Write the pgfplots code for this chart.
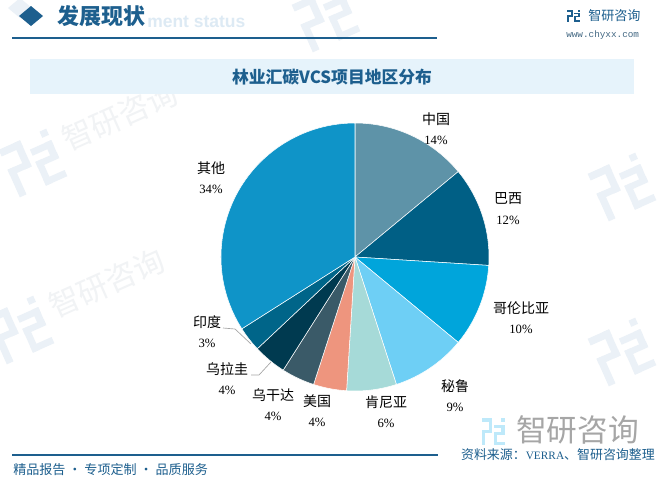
\documentclass[border=0pt]{standalone}
\usepackage{pgfplots}
\pgfplotsset{compat=1.18}
\usepackage{pgfplotstable}
\usepackage{fontspec}
\setmainfont{Liberation Serif}
\newfontfamily\cjk{Noto Sans CJK SC}
\newfontfamily\latsans{Liberation Sans}
\newfontfamily\latmono{Liberation Mono}

\definecolor{hdr}{HTML}{1D5F8E}
\definecolor{titlebg}{HTML}{E6F3FB}
\definecolor{subtle}{HTML}{DDEAF4}
\definecolor{wmicon}{HTML}{EBF1F7}
\definecolor{wmtext}{HTML}{F1F3F5}
\definecolor{cA}{HTML}{5E93A8}
\definecolor{cB}{HTML}{005F85}
\definecolor{cC}{HTML}{00A5DB}
\definecolor{cD}{HTML}{6ECFF5}
\definecolor{cE}{HTML}{A6DAD8}
\definecolor{cF}{HTML}{EE957E}
\definecolor{cG}{HTML}{3A5A68}
\definecolor{cH}{HTML}{003A50}
\definecolor{cI}{HTML}{006589}
\definecolor{cJ}{HTML}{0F94C8}

% pie data: share in percent, clockwise from the top; lx ly = label position (px)
\pgfplotstableread{
name pct col lx ly
中国 14 cA 436 119
巴西 12 cB 508 199
哥伦比亚 10 cC 521 308
秘鲁 9 cD 455 386
肯尼亚 6 cE 386 402
美国 4 cF 317 401
乌干达 4 cG 273 395
乌拉圭 4 cH 227 369
印度 3 cI 207 322
其他 34 cJ 211 168
}\piedata

\newcommand\px[1]{\fontsize{#1pt}{#1pt}\selectfont}

% simplified company icon, unit square, y up
\newcommand\logoicon[1]{%
  \fill[#1] (0,1) rectangle (0.45,0.86);
  \fill[#1] (0.31,1) rectangle (0.45,0.45);
  \fill[#1] (0,0.58) rectangle (0.45,0.45);
  \fill[#1] (0,0.58) rectangle (0.14,0);
  \fill[#1] (0.55,0.76) rectangle (1,0.63);
  \fill[#1] (0.86,0.76) rectangle (1,0.4);
  \fill[#1] (0.55,0.5) rectangle (1,0.38);
  \fill[#1] (0.55,0.5) rectangle (0.68,0);
  \fill[#1] (0.55,0.13) rectangle (1,0);
  \fill[#1] (0.86,1) rectangle (1,0.87);
}

% faint watermark icon
\newcommand\wmicon[2]{%
  \begin{scope}[shift={(axis cs:#1,#2)}, rotate=24, x=0.75pt, y=0.75pt]
    \begin{scope}[shift={(-26,-26)}, x=39pt, y=39pt]
      \logoicon{wmicon}
    \end{scope}
  \end{scope}
}
% faint watermark icon with its name
\newcommand\wmtile[2]{%
  \wmicon{#1}{#2}
  \begin{scope}[shift={(axis cs:#1,#2)}, rotate=24, x=0.75pt, y=0.75pt, transform shape]
    \node[anchor=base west, text=wmtext, font=\cjk\px{23}] at (32,-4) {智研咨询};
  \end{scope}
}

\begin{document}
\begin{tikzpicture}
\useasboundingbox (0,0) rectangle (498.75pt,361.5pt);
\fill[white] (0,0) rectangle (498.75pt,361.5pt);
\begin{axis}[
  at={(0,0)}, anchor=south west,
  scale only axis, width=498.75pt, height=361.5pt,
  xmin=0, xmax=665, ymin=0, ymax=482, y dir=reverse,
  hide axis, clip=false,
]
% faint watermarks
\wmtile{33}{163}
\wmtile{20}{330}
\wmicon{326}{18}
\wmicon{622}{187}
\wmicon{622}{352}

% header
\fill[wmicon] (axis cs:8,8) -- (axis cs:20,-2) -- (axis cs:32,8) -- (axis cs:20,18) -- cycle;
\fill[hdr] (axis cs:19,16) -- (axis cs:31,6) -- (axis cs:43,16) -- (axis cs:31,26) -- cycle;
\node[anchor=base west, inner sep=0pt, text=subtle, font=\latsans\bfseries\px{13.1}] at (axis cs:147,27) {ment status};
\node[anchor=west, inner sep=0pt, text=hdr, font=\cjk\bfseries\px{16.5}] at (axis cs:57,16) {发展现状};
\draw[hdr, line width=1.1pt] (axis cs:12,38) -- (axis cs:437,38);
\begin{scope}[shift={(axis cs:567,22)}, x=9.5pt, y=9pt]
  \logoicon{hdr}
\end{scope}
\node[anchor=west, inner sep=0pt, text=hdr, font=\cjk\px{9.8}] at (axis cs:588,16) {智研咨询};
\node[anchor=west, inner sep=0pt, text=hdr!70!black!80, font=\latmono\px{7}] at (axis cs:566,35) {www.chyxx.com};

% chart title
\fill[titlebg] (axis cs:30,59) rectangle (axis cs:634,94);
\node[text=hdr, font=\cjk\bfseries\px{12.6}] at (axis cs:332,77) {林业汇碳VCS项目地区分布};

% pie wedges and labels from the table
\def\angA{90}
\pgfplotsforeachungrouped \i in {0,...,9}{%
  \pgfplotstablegetelem{\i}{pct}\of\piedata \let\pv\pgfplotsretval
  \pgfplotstablegetelem{\i}{col}\of\piedata \let\pc\pgfplotsretval
  \pgfmathsetmacro\angB{\angA-3.6*\pv}%
  \edef\tmp{\noexpand\fill[\pc, draw=white, line width=0.4pt] (axis cs:355,257) -- ++(\angA:100.5pt) arc[start angle=\angA, end angle=\angB, radius=100.5pt] -- cycle;}%
  \tmp
  \let\angA\angB
}
\pgfplotsforeachungrouped \i in {0,...,9}{%
  \pgfplotstablegetelem{\i}{pct}\of\piedata \let\pv\pgfplotsretval
  \pgfplotstablegetelem{\i}{name}\of\piedata \let\pn\pgfplotsretval
  \pgfplotstablegetelem{\i}{lx}\of\piedata \let\lx\pgfplotsretval
  \pgfplotstablegetelem{\i}{ly}\of\piedata \let\ly\pgfplotsretval
  \pgfmathsetmacro\lyb{\ly+21}%
  \edef\tmp{\noexpand\node[font=\noexpand\cjk\noexpand\px{10.5}] at (axis cs:\lx,\ly) {\pn};
    \noexpand\node[font=\noexpand\px{9.5}] at (axis cs:\lx,\lyb) {\pv\noexpand\%};}%
  \tmp
}
\draw[gray!70, line width=0.5pt] (axis cs:223,328) -- (axis cs:235,329) -- (axis cs:251,344);
\draw[gray!70, line width=0.5pt] (axis cs:251,375) -- (axis cs:259,375) -- (axis cs:271,362);

% footer
\begin{scope}[shift={(axis cs:482,445)}, x=17pt, y=20pt]
  \logoicon{cD!45}
\end{scope}
\node[anchor=west, inner sep=0pt, text=black!35, font=\cjk\px{23}] at (axis cs:516,430) {智研咨询};
\draw[hdr, line width=1pt] (axis cs:12,455) -- (axis cs:438,455);
\node[anchor=west, inner sep=0pt, text=hdr, font=\cjk\px{9.8}] at (axis cs:13,470) {精品报告 · 专项定制 · 品质服务};
\node[anchor=east, inner sep=0pt, text=hdr, font=\cjk\px{9.7}] at (axis cs:655,455) {资料来源：{\rmfamily\px{8.5}VERRA}、智研咨询整理};
\end{axis}
\end{tikzpicture}
\end{document}
